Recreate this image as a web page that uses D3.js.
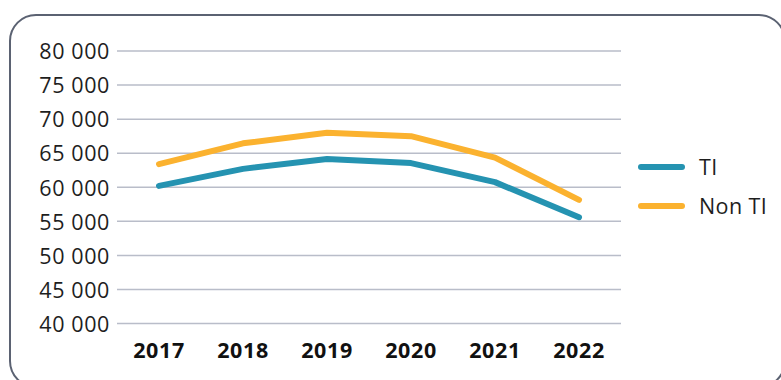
<!DOCTYPE html>
<html>
<head>
<meta charset="utf-8">
<script src="https://cdn.jsdelivr.net/npm/d3@7"></script>
<style>
  html, body { margin: 0; padding: 0; background: #fff; }
  svg { display: block; }
</style>
</head>
<body>
<svg id="chart" width="781" height="380"></svg>
<script>
// Yearly values for the two groups
const years = ["2017", "2018", "2019", "2020", "2021", "2022"];
const tiValues = [60200, 62700, 64150, 63550, 60750, 55600];
const nonTiValues = [63400, 66450, 68000, 67500, 64350, 58150];
const yTicks = [40000, 45000, 50000, 55000, 60000, 65000, 70000, 75000, 80000];
const seriesNames = ["TI", "Non TI"];
const seriesColors = ["#2593b1", "#fbb22f"];

const svg = d3.select("#chart");

// Rounded frame around the chart
svg.append("rect")
  .attr("x", 10).attr("y", 15)
  .attr("width", 775).attr("height", 372)
  .attr("rx", 26).attr("ry", 26)
  .attr("fill", "none")
  .attr("stroke", "#5b6272")
  .attr("stroke-width", 2);

const x = d3.scaleBand().domain(years).range([117, 621]);
const y = d3.scaleLinear().domain([40000, 80000]).range([323.5, 51]);

// Horizontal gridlines
svg.append("g")
  .selectAll("line")
  .data(yTicks)
  .join("line")
  .attr("x1", 117).attr("x2", 621)
  .attr("y1", d => y(d)).attr("y2", d => y(d))
  .attr("stroke", "#b9bdc9")
  .attr("stroke-width", 1.5);

// Y axis labels (space as thousands separator)
const fmt = d => d3.format(",")(d).replace(/,/g, " ");
const yAxis = d3.axisLeft(y).tickValues(yTicks).tickFormat(fmt).tickSize(0).tickPadding(0);
const gy = svg.append("g").attr("transform", "translate(110,0)").call(yAxis);
gy.select(".domain").remove();
gy.selectAll("text")
  .attr("font-family", "'Open Sans', sans-serif")
  .attr("font-size", 21.5)
  .attr("letter-spacing", 0.6)
  .attr("dy", "0.36em")
  .attr("fill", "#1e1e1e");

// X axis labels
const xAxis = d3.axisBottom(x).tickSize(0).tickPadding(0);
const gx = svg.append("g").attr("transform", "translate(0,0)").call(xAxis);
gx.select(".domain").remove();
gx.selectAll("text")
  .attr("y", 358)
  .attr("dy", 0)
  .attr("font-family", "'Open Sans', sans-serif")
  .attr("font-weight", "bold")
  .attr("font-size", 21.5)
  .attr("letter-spacing", 0.6)
  .attr("fill", "#111");

// Lines
const line = d3.line()
  .x((d, i) => x(years[i]) + x.bandwidth() / 2)
  .y(d => y(d));

[tiValues, nonTiValues].forEach((vals, k) => {
  svg.append("path")
    .datum(vals)
    .attr("d", line)
    .attr("fill", "none")
    .attr("stroke", seriesColors[k])
    .attr("stroke-width", 6)
    .attr("stroke-linecap", "round")
    .attr("stroke-linejoin", "round");
});

// Legend
const legend = svg.append("g")
  .selectAll("g")
  .data(seriesNames)
  .join("g")
  .attr("transform", (d, i) => `translate(641, ${167 + i * 39})`);
legend.append("line")
  .attr("x1", 0).attr("x2", 41)
  .attr("stroke", (d, i) => seriesColors[i])
  .attr("stroke-width", 6)
  .attr("stroke-linecap", "round");
legend.append("text")
  .attr("x", 58).attr("y", 0)
  .attr("dy", "0.36em")
  .attr("font-family", "'Open Sans', sans-serif")
  .attr("font-size", 21.5)
  .attr("letter-spacing", 0.4)
  .attr("fill", "#1e1e1e")
  .text(d => d);
</script>
</body>
</html>
